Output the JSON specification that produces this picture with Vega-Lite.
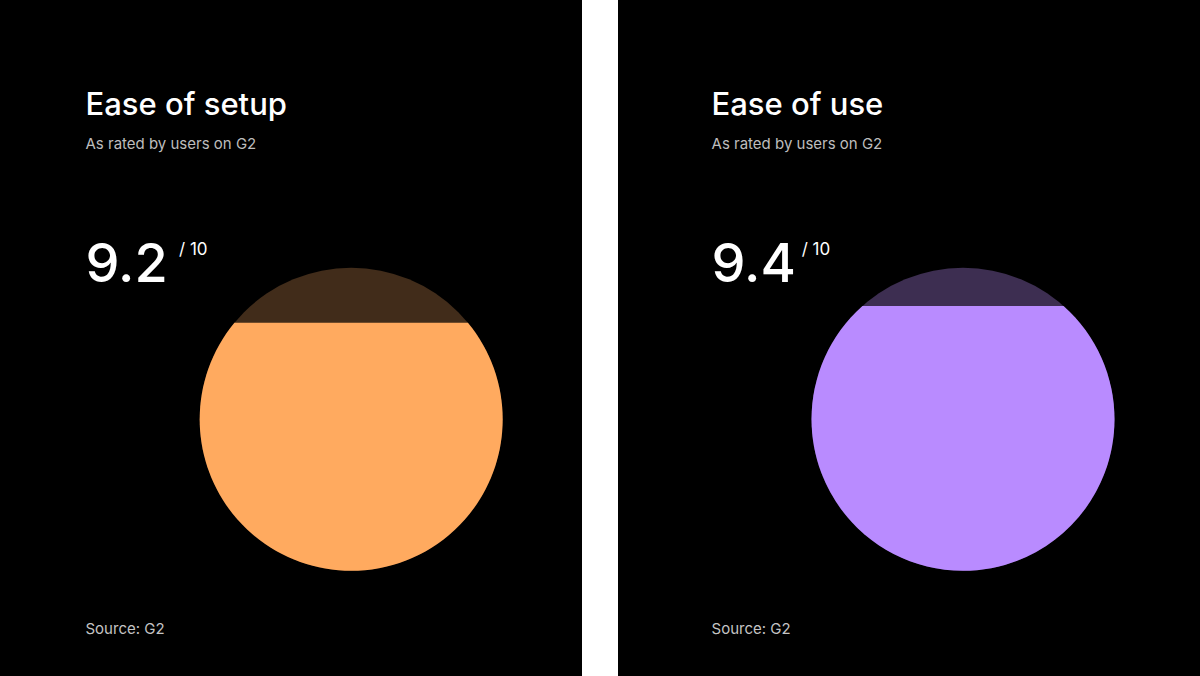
{
  "$schema": "https://vega.github.io/schema/vega-lite/v6.json",
  "background": "#ffffff",
  "padding": 0,
  "spacing": 36,
  "config": {"view": {"stroke": null}, "text": {"font": "Inter"}},
  "datasets": {
    "panels": [
      {"metric": "Ease of setup", "subtitle": "As rated by users on G2", "score": 9.2, "maxLabel": "/ 10", "source": "Source: G2"},
      {"metric": "Ease of use", "subtitle": "As rated by users on G2", "score": 9.4, "maxLabel": "/ 10", "source": "Source: G2"}
    ]
  },
  "hconcat": [
    {
      "width": 582,
      "height": 676,
      "view": {"fill": "#000000", "stroke": null},
      "data": {"name": "panels"},
      "transform": [{"filter": "datum.metric === 'Ease of setup'"}],
      "layer": [
        {
          "mark": {"type": "point", "shape": "circle", "filled": true, "opacity": 1, "strokeWidth": 0, "size": 91809, "color": "#412C1A"},
          "encoding": {
            "x": {"datum": 60.34, "type": "quantitative", "scale": {"domain": [0, 100]}, "axis": null},
            "y": {"datum": 62.03, "type": "quantitative", "scale": {"domain": [0, 100], "reverse": true}, "axis": null}
          }
        },
        {
          "mark": {"type": "point", "shape": "M-0.7704,-0.6376A1,1,0,1,0,0.7704,-0.6376Z", "filled": true, "opacity": 1, "strokeWidth": 0, "size": 91809, "color": "#FFAA5F"},
          "encoding": {
            "x": {"datum": 60.34, "type": "quantitative"},
            "y": {"datum": 62.03, "type": "quantitative"}
          }
        },
        {
          "mark": {"type": "text", "align": "left", "baseline": "alphabetic", "fontSize": 31, "fontWeight": 500, "color": "#ffffff"},
          "encoding": {
            "x": {"datum": 14.69, "type": "quantitative"},
            "y": {"datum": 17.01, "type": "quantitative"},
            "text": {"field": "metric"}
          }
        },
        {
          "mark": {"type": "text", "align": "left", "baseline": "alphabetic", "fontSize": 15, "color": "#BDBDBD"},
          "encoding": {
            "x": {"datum": 14.69, "type": "quantitative"},
            "y": {"datum": 21.97, "type": "quantitative"},
            "text": {"field": "subtitle"}
          }
        },
        {
          "mark": {"type": "text", "align": "left", "baseline": "alphabetic", "fontSize": 54, "fontWeight": 500, "color": "#ffffff"},
          "encoding": {
            "x": {"datum": 14.69, "type": "quantitative"},
            "y": {"datum": 41.67, "type": "quantitative"},
            "text": {"field": "score", "format": ".1f"}
          }
        },
        {
          "mark": {"type": "text", "align": "left", "baseline": "alphabetic", "fontSize": 17, "color": "#ffffff"},
          "encoding": {
            "x": {"datum": 30.76, "type": "quantitative"},
            "y": {"datum": 37.72, "type": "quantitative"},
            "text": {"field": "maxLabel"}
          }
        },
        {
          "mark": {"type": "text", "align": "left", "baseline": "alphabetic", "fontSize": 15, "color": "#C4C4C4"},
          "encoding": {
            "x": {"datum": 14.69, "type": "quantitative"},
            "y": {"datum": 93.79, "type": "quantitative"},
            "text": {"field": "source"}
          }
        }
      ]
    },
    {
      "width": 582,
      "height": 676,
      "view": {"fill": "#000000", "stroke": null},
      "data": {"name": "panels"},
      "transform": [{"filter": "datum.metric === 'Ease of use'"}],
      "layer": [
        {
          "mark": {"type": "point", "shape": "circle", "filled": true, "opacity": 1, "strokeWidth": 0, "size": 91809, "color": "#3D2E51"},
          "encoding": {
            "x": {"datum": 59.28, "type": "quantitative", "scale": {"domain": [0, 100]}, "axis": null},
            "y": {"datum": 62.03, "type": "quantitative", "scale": {"domain": [0, 100], "reverse": true}, "axis": null}
          }
        },
        {
          "mark": {"type": "point", "shape": "M-0.6638,-0.7479A1,1,0,1,0,0.6638,-0.7479Z", "filled": true, "opacity": 1, "strokeWidth": 0, "size": 91809, "color": "#B98BFF"},
          "encoding": {
            "x": {"datum": 59.28, "type": "quantitative"},
            "y": {"datum": 62.03, "type": "quantitative"}
          }
        },
        {
          "mark": {"type": "text", "align": "left", "baseline": "alphabetic", "fontSize": 31, "fontWeight": 500, "color": "#ffffff"},
          "encoding": {
            "x": {"datum": 16.07, "type": "quantitative"},
            "y": {"datum": 17.01, "type": "quantitative"},
            "text": {"field": "metric"}
          }
        },
        {
          "mark": {"type": "text", "align": "left", "baseline": "alphabetic", "fontSize": 15, "color": "#BDBDBD"},
          "encoding": {
            "x": {"datum": 16.07, "type": "quantitative"},
            "y": {"datum": 21.97, "type": "quantitative"},
            "text": {"field": "subtitle"}
          }
        },
        {
          "mark": {"type": "text", "align": "left", "baseline": "alphabetic", "fontSize": 54, "fontWeight": 500, "color": "#ffffff"},
          "encoding": {
            "x": {"datum": 16.07, "type": "quantitative"},
            "y": {"datum": 41.67, "type": "quantitative"},
            "text": {"field": "score", "format": ".1f"}
          }
        },
        {
          "mark": {"type": "text", "align": "left", "baseline": "alphabetic", "fontSize": 17, "color": "#ffffff"},
          "encoding": {
            "x": {"datum": 31.56, "type": "quantitative"},
            "y": {"datum": 37.72, "type": "quantitative"},
            "text": {"field": "maxLabel"}
          }
        },
        {
          "mark": {"type": "text", "align": "left", "baseline": "alphabetic", "fontSize": 15, "color": "#C4C4C4"},
          "encoding": {
            "x": {"datum": 16.07, "type": "quantitative"},
            "y": {"datum": 93.79, "type": "quantitative"},
            "text": {"field": "source"}
          }
        }
      ]
    }
  ]
}
